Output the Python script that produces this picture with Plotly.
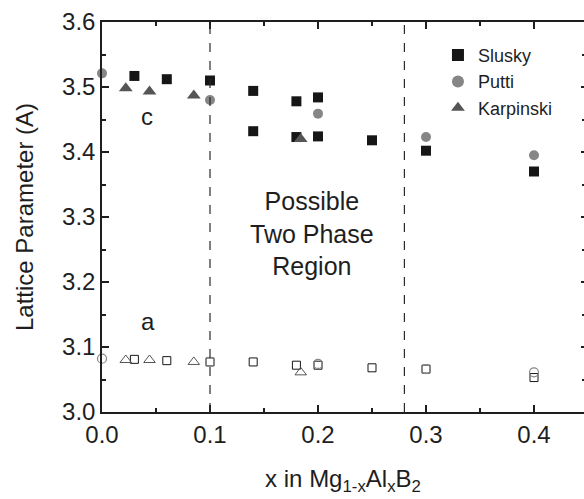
import plotly.graph_objects as go

# c-axis lattice parameter (filled markers)
slusky_x_c = [0.03, 0.06, 0.10, 0.14, 0.14, 0.18, 0.18, 0.20, 0.20, 0.25, 0.30, 0.40]
slusky_c = [3.517, 3.512, 3.510, 3.494, 3.432, 3.478, 3.423, 3.484, 3.424, 3.418, 3.402, 3.370]
putti_x_c = [0.0, 0.10, 0.20, 0.30, 0.40]
putti_c = [3.521, 3.480, 3.459, 3.423, 3.395]
karp_x_c = [0.022, 0.044, 0.085, 0.184]
karp_c = [3.498, 3.493, 3.487, 3.420]

# a-axis lattice parameter (open markers)
slusky_x_a = [0.03, 0.06, 0.10, 0.14, 0.18, 0.20, 0.25, 0.30, 0.40]
slusky_a = [3.081, 3.079, 3.077, 3.077, 3.072, 3.072, 3.068, 3.066, 3.053]
putti_x_a = [0.0, 0.10, 0.20, 0.30, 0.40]
putti_a = [3.082, 3.077, 3.074, 3.066, 3.061]
karp_x_a = [0.022, 0.044, 0.085, 0.184]
karp_a = [3.080, 3.080, 3.077, 3.061]

# composition limits of the two-phase region
phase_bounds = [0.10, 0.28]

FONT = "Liberation Sans, Arial, sans-serif"
INK = "#1e1e1e"
SQ = "#161616"
CIRC = "#868686"
TRI = "#555555"

fig = go.Figure()

# open a-axis markers (not in legend)
fig.add_trace(go.Scatter(x=slusky_x_a, y=slusky_a, mode="markers", showlegend=False,
                         cliponaxis=False,
                         marker=dict(symbol="square-open", size=8, color=SQ, line=dict(width=1))))
fig.add_trace(go.Scatter(x=karp_x_a, y=karp_a, mode="markers", showlegend=False,
                         cliponaxis=False,
                         marker=dict(symbol="triangle-up-open", size=10, color=TRI, line=dict(width=1))))
fig.add_trace(go.Scatter(x=putti_x_a, y=putti_a, mode="markers", showlegend=False,
                         cliponaxis=False,
                         marker=dict(symbol="circle-open", size=9, color=CIRC, line=dict(width=1.2))))

# filled c-axis markers
fig.add_trace(go.Scatter(x=slusky_x_c, y=slusky_c, mode="markers", name="Slusky",
                         cliponaxis=False,
                         marker=dict(symbol="square", size=10, color=SQ)))
fig.add_trace(go.Scatter(x=putti_x_c, y=putti_c, mode="markers", name="Putti",
                         cliponaxis=False,
                         marker=dict(symbol="circle", size=10, color=CIRC)))
fig.add_trace(go.Scatter(x=karp_x_c, y=karp_c, mode="markers", name="Karpinski",
                         cliponaxis=False,
                         marker=dict(symbol="triangle-up", size=12, color=TRI)))

# right-hand tick marks via an overlaying axis
fig.add_trace(go.Scatter(x=[0], y=[3.0], yaxis="y2", mode="markers", showlegend=False,
                         hoverinfo="skip", marker=dict(opacity=0)))

for xb in phase_bounds:
    fig.add_vline(x=xb, line=dict(color="#2a2a2a", width=1.2, dash="dash"))

fig.add_annotation(x=0.042, y=3.455, text="c", showarrow=False,
                   font=dict(family=FONT, size=24, color=INK))
fig.add_annotation(x=0.043, y=3.139, text="a", showarrow=False,
                   font=dict(family=FONT, size=24, color=INK))
fig.add_annotation(x=0.194, y=3.274, text="Possible<br>Two Phase<br>Region", showarrow=False,
                   align="center", font=dict(family=FONT, size=25, color=INK))

W, H = 584, 499
L, T, B = 102, 22, 87
x_max = (W - L) / 1080.0

axis_common = dict(showgrid=False, zeroline=False, showline=True, linecolor=INK, linewidth=1.5,
                   ticks="inside", ticklen=7, tickwidth=1.5, tickcolor=INK,
                   tickfont=dict(family=FONT, size=24, color=INK))

fig.update_layout(
    width=W, height=H,
    margin=dict(l=L, r=0, t=T, b=B),
    paper_bgcolor="white", plot_bgcolor="white",
    font=dict(family=FONT, color=INK),
    xaxis=dict(range=[0, x_max], dtick=0.1, tick0=0, tickformat=".1f", mirror="ticks",
               minor=dict(ticks="inside", dtick=0.05, tick0=0, ticklen=4, tickwidth=1.5, tickcolor=INK),
               title=dict(text="x in Mg<sub>1-x</sub>Al<sub>x</sub>B<sub>2</sub>",
                          font=dict(family=FONT, size=24, color=INK), standoff=24),
               **axis_common),
    yaxis=dict(range=[3.0, 3.6], dtick=0.1, tick0=3.0, tickformat=".1f",
               minor=dict(ticks="inside", dtick=0.05, tick0=3.0, ticklen=4, tickwidth=1.5, tickcolor=INK),
               title=dict(text="Lattice Parameter (A)", font=dict(family=FONT, size=24, color=INK),
                          standoff=22),
               **axis_common),
    yaxis2=dict(range=[3.0, 3.6], dtick=0.1, tick0=3.0, overlaying="y", side="right",
                showgrid=False, zeroline=False, showline=False, showticklabels=False,
                ticks="inside", ticklen=3, tickwidth=1.5, tickcolor=INK,
                minor=dict(ticks="inside", dtick=0.05, tick0=3.0, ticklen=2, tickwidth=1.5, tickcolor=INK)),
    legend=dict(x=0.697, y=0.962, xanchor="left", yanchor="top", bgcolor="rgba(0,0,0,0)",
                font=dict(family=FONT, size=18, color=INK), itemsizing="constant",
                tracegroupgap=0),
)

fig.write_html("out.html")
